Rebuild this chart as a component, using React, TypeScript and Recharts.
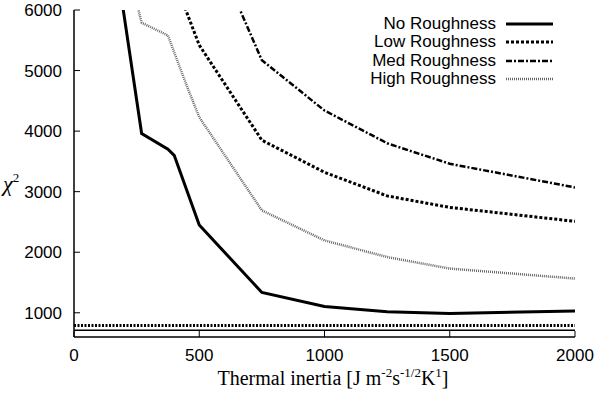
import React from "react";
import { LineChart, Line, XAxis, YAxis, ReferenceLine, Legend } from "recharts";

const tiNo = [150, 270, 375, 400, 500, 750, 1000, 1250, 1500, 2000];
const chiNo = [7300, 3960, 3700, 3600, 2450, 1335, 1105, 1015, 990, 1030];
const tiLow = [400, 500, 750, 1000, 1250, 1500, 2000];
const chiLow = [6500, 5420, 3850, 3320, 2930, 2740, 2510];
const tiMed = [500, 750, 1000, 1250, 1500, 2000];
const chiMed = [7550, 5170, 4340, 3800, 3460, 3070];
const tiHigh = [250, 270, 375, 400, 450, 500, 750, 1000, 1250, 1500, 2000];
const chiHigh = [6120, 5790, 5580, 5300, 4750, 4230, 2690, 2195, 1920, 1730, 1565];
const refLevels = [790, 710];
const xTicks = [0, 500, 1000, 1500, 2000];
const yTicks = [1000, 2000, 3000, 4000, 5000, 6000];
const seriesNames = ["No Roughness", "Low Roughness", "Med Roughness", "High Roughness"];

const zip = (xs: number[], ys: number[]) => xs.map((x, i) => ({ x, y: ys[i] }));

const styles = [
  { stroke: "#000", width: 3, dash: undefined as string | undefined },
  { stroke: "#000", width: 3, dash: "3 2" },
  { stroke: "#000", width: 2.5, dash: "6 2 2 2" },
  { stroke: "#666", width: 2.5, dash: "1 1" },
];

const seriesData = [zip(tiNo, chiNo), zip(tiLow, chiLow), zip(tiMed, chiMed), zip(tiHigh, chiHigh)];

const SANS = "'Liberation Sans', Arial, Helvetica, sans-serif";
const SERIF = "'Liberation Serif', 'Times New Roman', serif";

const LegendBox = () => (
  <div style={{ fontFamily: SANS, fontSize: 17, color: "#000" }}>
    {seriesNames.map((n, i) => (
      <div key={n} style={{ display: "flex", alignItems: "center", height: 18.3 }}>
        <span style={{ width: 166, textAlign: "right", whiteSpace: "nowrap", lineHeight: "18px" }}>{n}</span>
        <svg width={48} height={18} style={{ marginLeft: 10 }}>
          <line x1={0} y1={9} x2={47} y2={9} stroke={styles[i].stroke} strokeWidth={styles[i].width}
            strokeDasharray={styles[i].dash} />
        </svg>
      </div>
    ))}
  </div>
);

const XLabel = () => (
  <text x={333} y={385} textAnchor="middle" fontFamily={SERIF} fontSize={20} fill="#000">
    <tspan>Thermal inertia [J m</tspan>
    <tspan fontSize={13} dy={-8}>-2</tspan>
    <tspan dy={8}>s</tspan>
    <tspan fontSize={13} dy={-8}>-1/2</tspan>
    <tspan dy={8}>K</tspan>
    <tspan fontSize={13} dy={-8}>1</tspan>
    <tspan dy={8}>]</tspan>
  </text>
);

const YLabel = () => (
  <text x={3} y={191} fontFamily={SERIF} fontSize={22} fontStyle="italic" fill="#000">
    <tspan>χ</tspan>
    <tspan fontSize={13} dy={-9} fontStyle="normal">2</tspan>
  </text>
);

export default function App() {
  return (
    <div style={{ position: "absolute", left: 0, top: 0, width: 600, height: 394, background: "#fff" }}>
      <LineChart width={600} height={394} margin={{ top: 10, right: 25, left: 14, bottom: 0 }}>
        <XAxis dataKey="x" type="number" domain={[0, 2000]} ticks={xTicks} allowDataOverflow
          height={57} tickSize={-6} tickMargin={18}
          tick={{ fontFamily: SANS, fontSize: 17, fill: "#000" }}
          axisLine={{ stroke: "#000", strokeWidth: 1.5 }} tickLine={{ stroke: "#000", strokeWidth: 1 }}
          label={<XLabel />} />
        <XAxis xAxisId="top" orientation="top" dataKey="x" type="number" domain={[0, 2000]} ticks={xTicks}
          allowDataOverflow height={0} tickSize={-6} tickFormatter={() => ""}
          axisLine={{ stroke: "#000", strokeWidth: 1.5 }} tickLine={{ stroke: "#000", strokeWidth: 1 }} />
        <YAxis type="number" domain={[600, 6000]} ticks={yTicks} allowDataOverflow width={60}
          tickSize={-6} tickMargin={18}
          tick={{ fontFamily: SANS, fontSize: 17, fill: "#000" }}
          axisLine={{ stroke: "#000", strokeWidth: 1.5 }} tickLine={{ stroke: "#000", strokeWidth: 1 }}
          label={<YLabel />} />
        <YAxis yAxisId="right" orientation="right" type="number" domain={[600, 6000]} ticks={yTicks}
          allowDataOverflow width={0} tickSize={-6} tickFormatter={() => ""}
          axisLine={{ stroke: "#000", strokeWidth: 1.5 }} tickLine={{ stroke: "#000", strokeWidth: 1 }} />
        <ReferenceLine y={refLevels[0]} stroke="#000" strokeWidth={3} strokeDasharray="2 1.5" />
        <ReferenceLine y={refLevels[1]} stroke="#000" strokeWidth={1.5} />
        {seriesData.map((d, i) => (
          <Line key={seriesNames[i]} data={d} dataKey="y" name={seriesNames[i]} type="linear"
            stroke={styles[i].stroke} strokeWidth={styles[i].width} strokeDasharray={styles[i].dash}
            dot={false} activeDot={false} isAnimationActive={false} strokeLinejoin="miter" />
        ))}
        <Legend layout="vertical" align="center" verticalAlign="middle" content={<LegendBox />}
          wrapperStyle={{ top: 15, left: 330, width: 240, height: 76 }} />
      </LineChart>
    </div>
  );
}
